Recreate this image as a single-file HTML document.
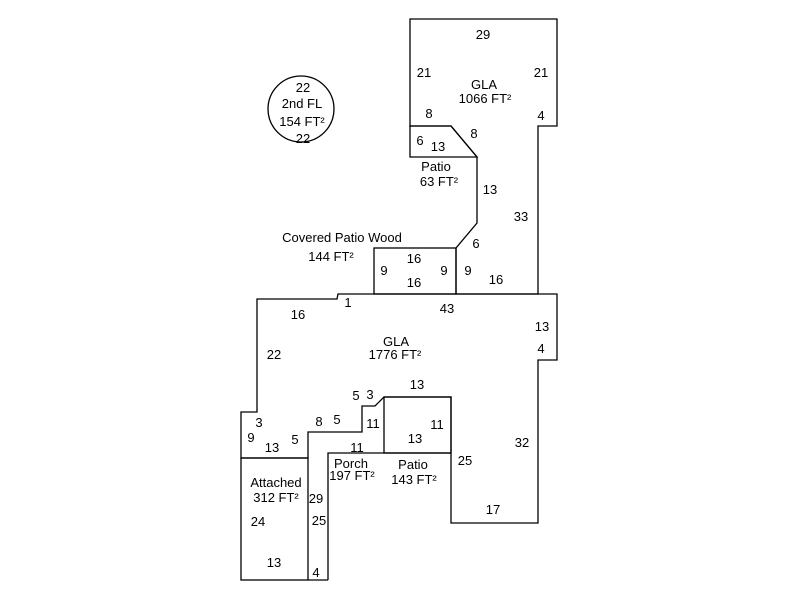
<!DOCTYPE html>
<html><head><meta charset="utf-8"><style>
html,body{margin:0;padding:0;background:#fff;}
svg{display:block;}
text{font-family:"Liberation Sans",Arial,sans-serif;font-size:13px;fill:#000;text-anchor:middle;}
</style></head><body>
<svg width="800" height="600" viewBox="0 0 800 600" xmlns="http://www.w3.org/2000/svg">
<g fill="none" stroke="#000" stroke-width="1.3">
<circle cx="301" cy="109" r="33"/>
<polygon points="410,19 557,19 557,126 538,126 538,294 456,294 456,248 477,223 477,157 451,126 410,126"/>
<polygon points="410,126 451,126 477,157 410,157"/>
<rect x="374" y="248" width="82" height="46"/>
<polygon points="257,299 337,299 338,294 557,294 557,360 538,360 538,523 451,523 451,397 384,397 375,406 362,406 362,432 308,432 308,458 241,458 241,412 257,412"/>
<rect x="384" y="397" width="67" height="56"/>
<polyline points="328,580 328,453 451,453"/>
<rect x="241" y="458" width="67" height="122"/>
<polyline points="308,580 328,580"/>
</g>
<text x="303" y="92">22</text>
<text x="302" y="108">2nd FL</text>
<text x="302" y="126">154 FT²</text>
<text x="303" y="143">22</text>
<text x="483" y="39">29</text>
<text x="424" y="77">21</text>
<text x="541" y="77">21</text>
<text x="484" y="89">GLA</text>
<text x="485" y="103">1066 FT²</text>
<text x="429" y="118">8</text>
<text x="541" y="120">4</text>
<text x="420" y="145">6</text>
<text x="438" y="151">13</text>
<text x="474" y="138">8</text>
<text x="436" y="171">Patio</text>
<text x="439" y="186">63 FT²</text>
<text x="490" y="194">13</text>
<text x="521" y="221">33</text>
<text x="342" y="242">Covered Patio Wood</text>
<text x="331" y="261">144 FT²</text>
<text x="476" y="248">6</text>
<text x="414" y="263">16</text>
<text x="384" y="275">9</text>
<text x="444" y="275">9</text>
<text x="468" y="275">9</text>
<text x="496" y="284">16</text>
<text x="414" y="287">16</text>
<text x="348" y="307">1</text>
<text x="447" y="313">43</text>
<text x="298" y="319">16</text>
<text x="542" y="331">13</text>
<text x="396" y="346">GLA</text>
<text x="395" y="359">1776 FT²</text>
<text x="274" y="359">22</text>
<text x="541" y="353">4</text>
<text x="417" y="389">13</text>
<text x="356" y="400">5</text>
<text x="370" y="399">3</text>
<text x="259" y="427">3</text>
<text x="319" y="426">8</text>
<text x="337" y="424">5</text>
<text x="373" y="428">11</text>
<text x="437" y="429">11</text>
<text x="251" y="442">9</text>
<text x="272" y="452">13</text>
<text x="295" y="444">5</text>
<text x="415" y="443">13</text>
<text x="357" y="452">11</text>
<text x="522" y="447">32</text>
<text x="465" y="465">25</text>
<text x="351" y="468">Porch</text>
<text x="352" y="480">197 FT²</text>
<text x="413" y="469">Patio</text>
<text x="414" y="484">143 FT²</text>
<text x="276" y="487">Attached</text>
<text x="276" y="502">312 FT²</text>
<text x="316" y="503">29</text>
<text x="493" y="514">17</text>
<text x="258" y="526">24</text>
<text x="319" y="525">25</text>
<text x="274" y="567">13</text>
<text x="316" y="577">4</text>
</svg>
</body></html>
